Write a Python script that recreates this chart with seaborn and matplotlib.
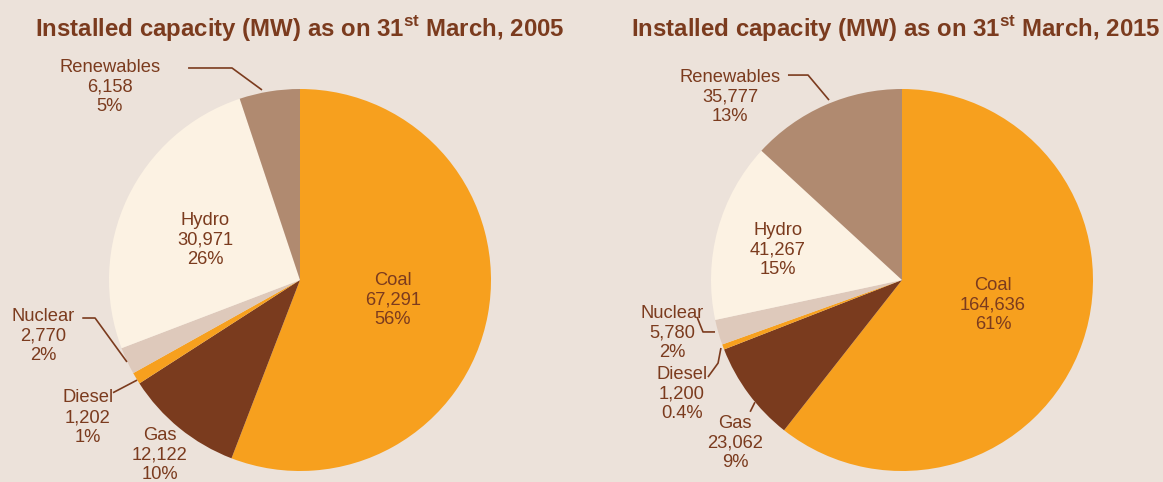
import matplotlib
matplotlib.use("Agg")
import matplotlib.pyplot as plt
import seaborn as sns

categories = ["Coal", "Gas", "Diesel", "Nuclear", "Hydro", "Renewables"]
values_2005 = [67291, 12122, 1202, 2770, 30971, 6158]
values_2015 = [164636, 23062, 1200, 5780, 41267, 35777]
pct_2005 = ["56%", "10%", "1%", "2%", "26%", "5%"]
pct_2015 = ["61%", "9%", "0.4%", "2%", "15%", "13%"]
titles = ["2005", "2015"]

BG = "#ECE2DA"
TXT = "#7B3B1E"
colors = ["#F7A01E", "#7A3B1E", "#F7A01E", "#DEC9BB", "#FCF2E3", "#B08A70"]

sns.set_theme(style="white")
plt.rcParams["font.family"] = ["Liberation Sans", "DejaVu Sans"]
plt.rcParams["mathtext.fontset"] = "custom"
plt.rcParams["mathtext.rm"] = "Liberation Sans"
plt.rcParams["mathtext.bf"] = "Liberation Sans:bold"

W, H = 1163, 482
fig = plt.figure(figsize=(W / 100, H / 100), dpi=100, facecolor=BG)

R = 191
centers = [(300, 280), (902, 280)]

label_pos = [
    {"Coal": (0.487, -0.105), "Hydro": (-0.497, 0.209), "Renewables": (-0.995, 1.01),
     "Nuclear": (-1.346, -0.293), "Diesel": (-1.11, -0.72), "Gas": (-0.733, -0.916)},
    {"Coal": (0.476, -0.131), "Hydro": (-0.649, 0.157), "Renewables": (-0.90, 0.958),
     "Nuclear": (-1.204, -0.277), "Diesel": (-1.152, -0.597), "Gas": (-0.874, -0.853)},
]
leaders = [
    [[(-0.586, 1.11), (-0.356, 1.11), (-0.199, 0.995)],
     [(-1.14, -0.199), (-1.073, -0.199), (-0.906, -0.429)],
     [(-0.979, -0.59), (-0.853, -0.524)]],
    [[(-0.597, 1.073), (-0.492, 1.073), (-0.382, 0.942)],
     [(-1.073, -0.194), (-1.042, -0.272), (-0.979, -0.272)],
     [(-1.016, -0.508), (-0.963, -0.435), (-0.948, -0.356)],
     [(-0.795, -0.69), (-0.77, -0.64)]],
]

for i, (vals, pcts) in enumerate([(values_2005, pct_2005), (values_2015, pct_2015)]):
    cx, cy = centers[i]
    ax = fig.add_axes([(cx - R) / W, (H - cy - R) / H, 2 * R / W, 2 * R / H])
    ax.set_facecolor(BG)
    ax.pie(vals, colors=colors, startangle=90, counterclock=False, radius=1,
           wedgeprops=dict(linewidth=0))
    ax.set_xlim(-1, 1)
    ax.set_ylim(-1, 1)
    ax.set_aspect("equal")
    ax.axis("off")
    for cat, v, p in zip(categories, vals, pcts):
        x, y = label_pos[i][cat]
        ax.text(x, y, f"{cat}\n{v:,}\n{p}", ha="center", va="center", color=TXT,
                fontsize=13.2, linespacing=1.22, clip_on=False)
    for pts in leaders[i]:
        xs = [p[0] for p in pts]
        ys = [p[1] for p in pts]
        ax.plot(xs, ys, color=TXT, lw=1.2, clip_on=False, solid_capstyle="butt")

title_x = [300, 896]
for i, yr in enumerate(titles):
    fig.text(title_x[i] / W, 1 - 28 / H,
             r"Installed capacity (MW) as on 31$^{\mathbf{st}}$ March, " + yr,
             ha="center", va="center", color=TXT, fontsize=17.3, fontweight="bold")

fig.savefig("out.png", dpi=100, facecolor=BG)
